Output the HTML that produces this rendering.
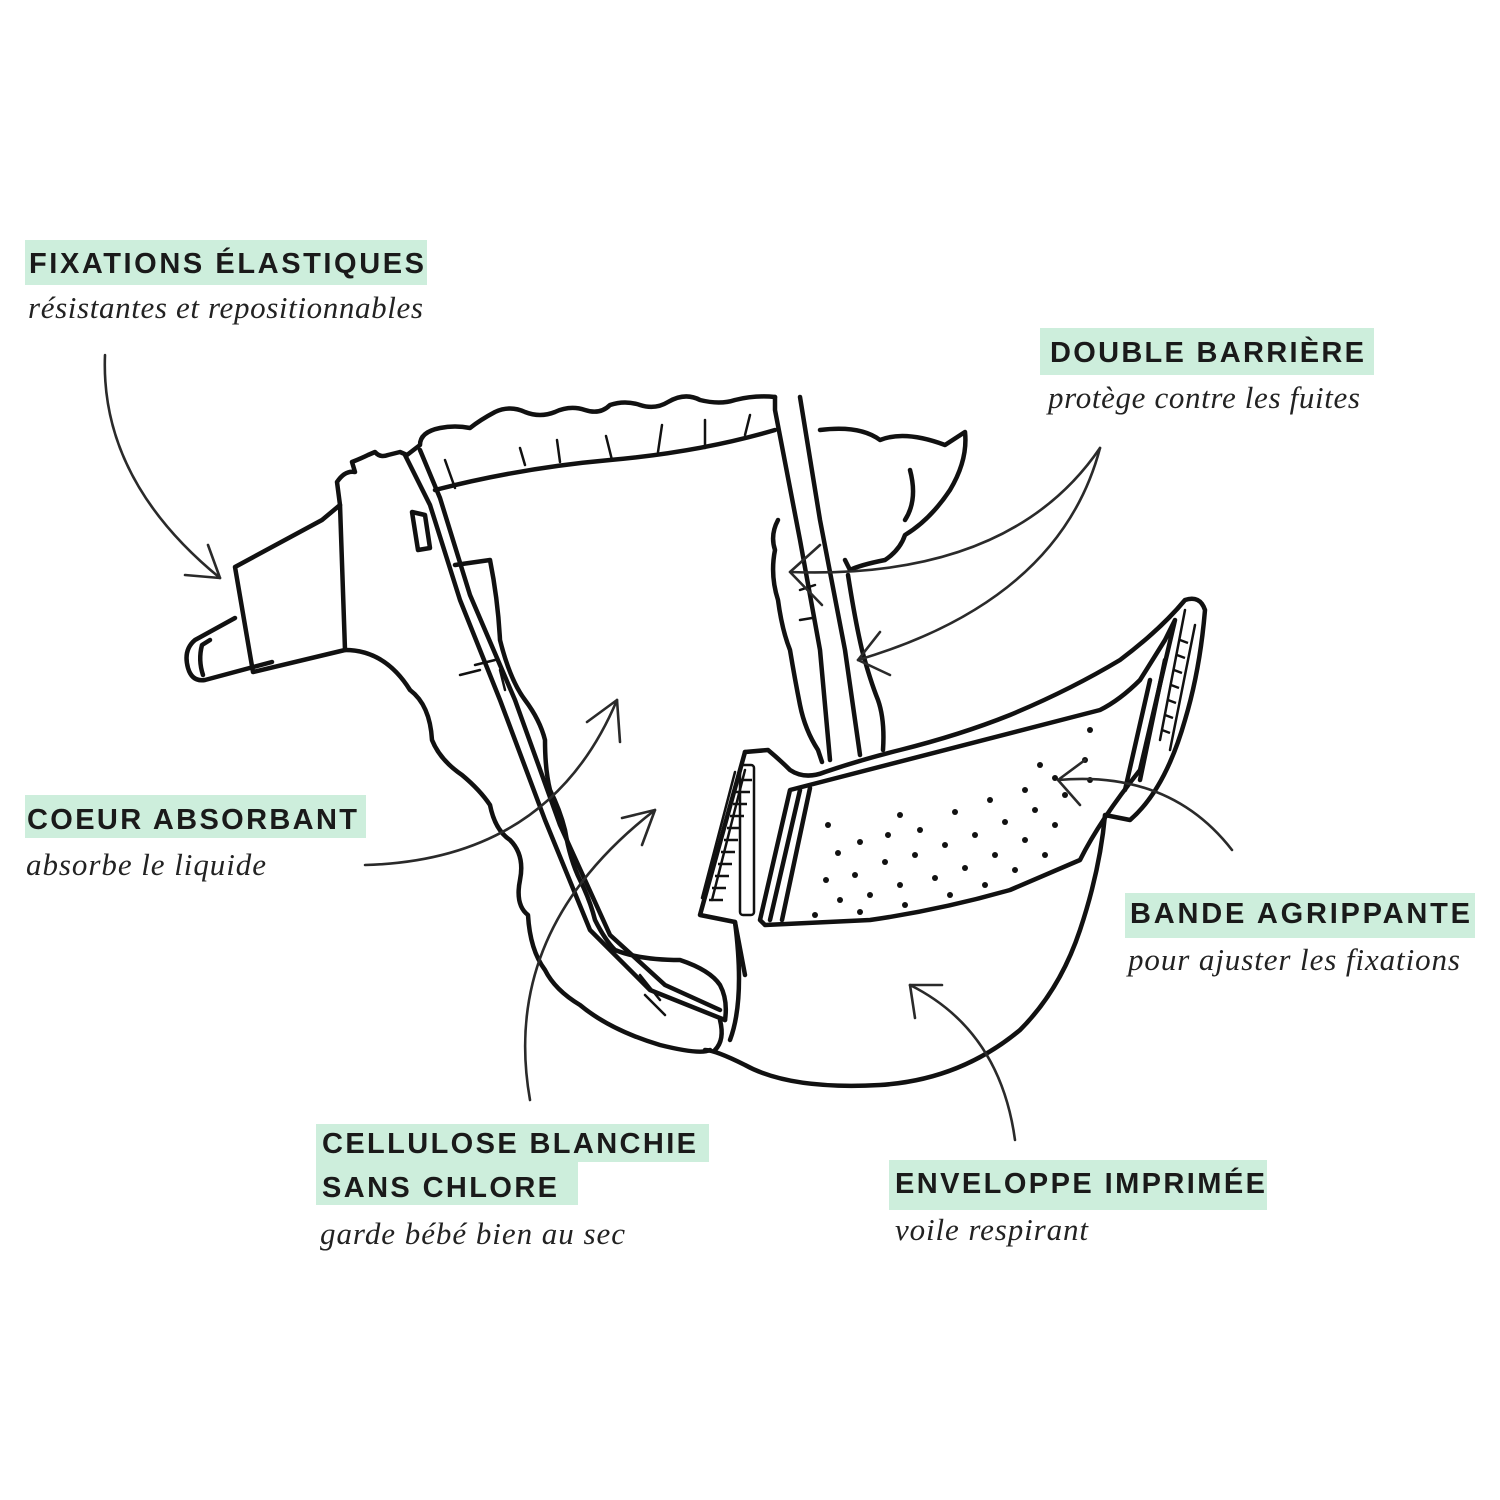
<!DOCTYPE html>
<html><head><meta charset="utf-8"><style>
html,body{margin:0;padding:0;background:#fff;}
svg{display:block;}
.c{font-family:"Liberation Sans",sans-serif;font-weight:bold;font-size:29px;fill:#1a1a1a;}
.i{font-family:"Liberation Serif",serif;font-style:italic;font-size:31px;fill:#222;}
.d{fill:none;stroke:#111;stroke-width:4.5;stroke-linejoin:round;stroke-linecap:round;}
.t{fill:none;stroke:#111;stroke-width:2.5;stroke-linecap:round;}
.a{fill:none;stroke:#2a2a2a;stroke-width:2.6;stroke-linecap:round;stroke-linejoin:round;}
</style></head><body>
<svg width="1500" height="1500" viewBox="0 0 1500 1500" xmlns="http://www.w3.org/2000/svg">
<rect width="1500" height="1500" fill="#fff"/>
<g fill="#cdeedc">
<rect x="25" y="240" width="402" height="45"/>
<rect x="1040" y="328" width="334" height="47"/>
<rect x="25" y="795" width="341" height="43"/>
<rect x="1125" y="893" width="350" height="45"/>
<rect x="316" y="1124" width="393" height="38"/>
<rect x="316" y="1162" width="262" height="43"/>
<rect x="889" y="1160" width="378" height="50"/>
</g>
<text class="c" x="29" y="273" textLength="395">FIXATIONS ÉLASTIQUES</text>
<text class="i" x="28" y="318" textLength="395">résistantes et repositionnables</text>
<text class="c" x="1050" y="362" textLength="314">DOUBLE BARRIÈRE</text>
<text class="i" x="1048" y="408" textLength="312">protège contre les fuites</text>
<text class="c" x="27" y="829" textLength="330">COEUR ABSORBANT</text>
<text class="i" x="26" y="875" textLength="240">absorbe le liquide</text>
<text class="c" x="1130" y="923" textLength="340">BANDE AGRIPPANTE</text>
<text class="i" x="1128" y="970" textLength="332">pour ajuster les fixations</text>
<text class="c" x="322" y="1153" textLength="374">CELLULOSE BLANCHIE</text>
<text class="c" x="322" y="1197" textLength="235">SANS CHLORE</text>
<text class="i" x="320" y="1244" textLength="305">garde bébé bien au sec</text>
<text class="c" x="895" y="1193" textLength="370">ENVELOPPE IMPRIMÉE</text>
<text class="i" x="895" y="1240" textLength="193">voile respirant</text>

<!-- diaper -->
<g class="d">
<!-- small tab -->
<path d="M235,618 L195,640 Q183,650 188,668 Q192,682 205,680 L272,662"/>
<path d="M210,640 L202,645 Q198,660 203,675"/>
<!-- big tab -->
<path d="M235,567 L253,672 L345,650 L340,505 L322,520 Z"/>
<!-- left side panel -->
<path d="M340,505 L337,482 Q345,470 355,472 L352,462 Q362,458 368,455 L375,452 Q380,458 388,455 L400,452 L407,455"/>
<path d="M345,650 Q385,650 410,690 Q430,705 432,740 Q440,760 462,775 Q480,790 490,805 Q495,830 510,840 Q525,855 520,880 Q515,905 528,915 Q530,950 545,970 Q555,990 580,1005 Q610,1030 660,1045 Q700,1055 710,1050"/>
<!-- waistband top -->
<path d="M407,455 L420,445 Q420,432 440,428 Q455,425 470,428 Q480,420 495,412 Q510,405 525,412 Q540,418 555,412 Q570,405 585,410 Q600,415 610,405 Q625,400 640,405 Q655,410 668,402 Q685,392 700,400 Q720,405 735,400 Q755,395 775,397"/>
<path d="M435,490 Q520,468 610,460 Q700,452 775,430"/>
<!-- left double strip -->
<path d="M405,455 L430,505 L460,600 L500,700 L545,820 L590,930 L650,990 L725,1020"/>
<path d="M420,450 L440,498 L470,595 L515,700 L560,825 L610,935 L665,985 L720,1010"/>
<path d="M412,512 L418,550 L430,548 L425,515 Z"/>
<path d="M455,565 L490,560 Q498,600 500,640 Q510,680 525,700 Q540,720 545,740 Q545,770 550,790 Q560,810 565,830 Q570,860 580,880 Q590,900 595,920 Q605,940 615,950 Q640,960 680,960 Q710,970 720,985 Q728,1000 725,1020"/>
<path d="M720,1020 Q725,1040 715,1050"/>
<!-- right double strip -->
<path d="M775,397 L775,410 L800,540 L820,650 L830,760"/>
<path d="M800,397 L820,520 L845,650 L860,755"/>
<path d="M820,430 Q860,425 880,440 Q905,430 945,445 L965,432 Q968,460 950,490 Q930,520 905,535 Q900,550 885,560 Q860,565 850,570 L845,560"/>
<path d="M910,470 Q918,500 905,520"/>
<path d="M778,520 Q770,535 775,550 Q770,575 778,600 Q782,630 790,650 Q795,680 800,705 Q805,730 818,750 L822,762"/>
<path d="M848,575 Q855,620 862,650 Q870,680 878,700 Q885,720 883,750"/>
<!-- front panel -->
<path d="M745,752 L768,750 Q780,760 790,770 Q805,780 825,772 Q860,760 900,750 Q960,735 1010,715 Q1070,690 1120,660 Q1160,630 1185,600 Q1200,595 1205,610 Q1200,670 1185,720 Q1165,790 1130,820 L1105,815 Q1100,870 1080,930 Q1060,990 1020,1030 Q960,1080 880,1085 Q790,1090 745,1065 Q715,1050 705,1050"/>
<path d="M745,752 L700,915 L735,922 L745,975"/>
<path d="M735,922 Q745,1000 730,1040"/>
<path d="M790,790 L1100,710 Q1120,700 1140,680 L1165,640 Q1175,620 1175,620 L1140,770 Q1100,820 1080,860 L1010,890 Q940,910 870,920 L765,925 L760,920 Z"/>
<path d="M800,790 L770,920 M810,788 L782,920"/>
<path d="M1150,680 L1125,790 M1165,660 L1140,780"/>
</g>
<g class="t">
<path d="M1185,610 L1160,740 M1195,625 L1170,750"/>
<path d="M745,770 L712,900 M735,772 L702,898"/>
<path d="M525,465 L520,448 M612,460 L606,436 M658,452 L662,425 M705,448 L705,420 M745,435 L750,415 M560,462 L557,440 M455,488 L445,460"/>
<path d="M475,665 L495,660 M500,670 L505,690 M460,675 L480,670 M800,590 L815,585 M800,620 L812,618 M640,975 L660,1000 M645,995 L665,1015"/>
</g>
<!-- dots -->
<g fill="#111">
<circle cx="838" cy="853" r="3"/><circle cx="860" cy="842" r="3"/><circle cx="888" cy="835" r="3"/><circle cx="920" cy="830" r="3"/><circle cx="955" cy="812" r="3"/><circle cx="990" cy="800" r="3"/><circle cx="1025" cy="790" r="3"/><circle cx="1055" cy="778" r="3"/><circle cx="1085" cy="760" r="3"/>
<circle cx="826" cy="880" r="3"/><circle cx="855" cy="875" r="3"/><circle cx="885" cy="862" r="3"/><circle cx="915" cy="855" r="3"/><circle cx="945" cy="845" r="3"/><circle cx="975" cy="835" r="3"/><circle cx="1005" cy="822" r="3"/><circle cx="1035" cy="810" r="3"/><circle cx="1065" cy="795" r="3"/><circle cx="1090" cy="780" r="3"/>
<circle cx="840" cy="900" r="3"/><circle cx="870" cy="895" r="3"/><circle cx="900" cy="885" r="3"/><circle cx="935" cy="878" r="3"/><circle cx="965" cy="868" r="3"/><circle cx="995" cy="855" r="3"/><circle cx="1025" cy="840" r="3"/><circle cx="1055" cy="825" r="3"/>
<circle cx="815" cy="915" r="3"/><circle cx="860" cy="912" r="3"/><circle cx="905" cy="905" r="3"/><circle cx="950" cy="895" r="3"/><circle cx="985" cy="885" r="3"/><circle cx="1015" cy="870" r="3"/><circle cx="1045" cy="855" r="3"/>
<circle cx="828" cy="825" r="3"/><circle cx="900" cy="815" r="3"/><circle cx="1040" cy="765" r="3"/><circle cx="1090" cy="730" r="3"/>
</g>
<!-- elastic beads -->
<g fill="none" stroke="#111" stroke-width="2.5">
<rect x="740" y="765" width="14" height="150" rx="3"/>
<path d="M738,780 h14 M736,792 h14 M733,804 h14 M730,816 h14 M727,828 h14 M724,840 h14 M721,852 h14 M718,864 h14 M715,876 h14 M712,888 h14 M709,900 h14"/>
<path d="M1180,640 l8,3 M1177,655 l8,3 M1174,670 l8,3 M1171,685 l8,3 M1168,700 l8,3 M1165,715 l8,3 M1162,730 l8,3"/>
</g>
<!-- arrows -->
<g class="a">
<path d="M105,355 Q100,480 220,578"/><path d="M208,545 L220,578 L185,575"/>
<path d="M1100,448 Q1010,580 790,572"/><path d="M820,545 L790,572 L822,605"/>
<path d="M1100,448 Q1060,600 858,660"/><path d="M880,632 L858,660 L890,675"/>
<path d="M365,865 Q550,860 617,700"/><path d="M587,722 L617,700 L620,742"/>
<path d="M530,1100 Q500,930 655,810"/><path d="M622,818 L655,810 L642,845"/>
<path d="M1232,850 Q1170,770 1058,780"/><path d="M1085,760 L1058,780 L1080,805"/>
<path d="M1015,1140 Q1000,1030 910,985"/><path d="M942,985 L910,985 L915,1018"/>
</g>
</svg>
</body></html>
